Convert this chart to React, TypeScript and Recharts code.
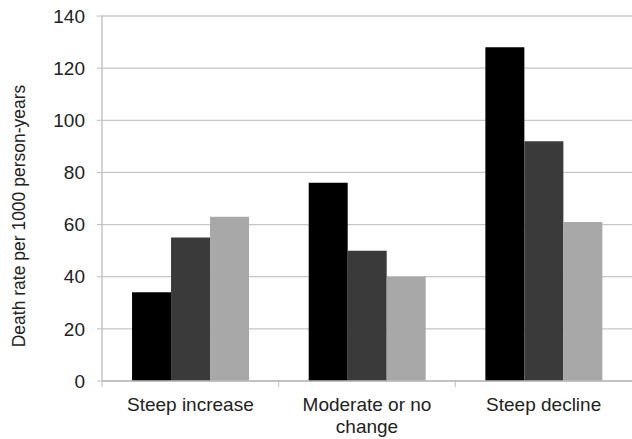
import { BarChart, Bar, XAxis, YAxis, CartesianGrid } from "recharts"

const CATEGORIES = ["Steep increase", "Moderate or no change", "Steep decline"]
const SERIES_A = [34, 76, 128]
const SERIES_B = [55, 50, 92]
const SERIES_C = [63, 40, 61]
const Y_TICKS = [0, 20, 40, 60, 80, 100, 120, 140]

const FONT = "'Liberation Sans', Arial, sans-serif"
const TEXT_COLOR = "#222"
const AXIS_COLOR = "#bdbdbd"
const MAX_LINE_CHARS = 14

const data = CATEGORIES.map((name, i) => ({
  name,
  a: SERIES_A[i],
  b: SERIES_B[i],
  c: SERIES_C[i],
}))

// greedy word wrap, the category labels are short enough for this
function wrap(label: string) {
  const lines: string[] = []
  let cur = ""
  for (const w of label.split(" ")) {
    const next = cur ? cur + " " + w : w
    if (next.length > MAX_LINE_CHARS && cur) {
      lines.push(cur)
      cur = w
    } else {
      cur = next
    }
  }
  if (cur) lines.push(cur)
  return lines
}

function CategoryTick({ x, y, payload }: any) {
  const half = payload?.offset ?? 0
  const lines = wrap(String(payload.value))
  return (
    <g>
      <line x1={x - half} x2={x - half} y1={y - 8} y2={y - 2} stroke={AXIS_COLOR} />
      <text
        x={x}
        y={y + 22}
        textAnchor="middle"
        fontSize={19}
        fontFamily={FONT}
        fill={TEXT_COLOR}
      >
        {lines.map((l, i) => (
          <tspan key={i} x={x} dy={i === 0 ? 0 : 22}>
            {l}
          </tspan>
        ))}
      </text>
    </g>
  )
}

function YLabel() {
  const cy = 216
  return (
    <text
      x={19}
      y={cy}
      transform={`rotate(-90, 19, ${cy})`}
      textAnchor="middle"
      dominantBaseline="central"
      fontSize={17.5}
      fontFamily={FONT}
      fill={TEXT_COLOR}
    >
      Death rate per 1000 person-years
    </text>
  )
}

export default function App() {
  return (
    <div style={{ position: "absolute", left: 0, top: 0, background: "#fff" }}>
      <BarChart
        width={632}
        height={439}
        data={data}
        margin={{ top: 16, right: 0, bottom: 0, left: 0 }}
        barCategoryGap="17%"
        barGap={0}
      >
        <CartesianGrid vertical={false} stroke="#c6c6c6" strokeWidth={1.3} />
        <XAxis
          dataKey="name"
          height={58}
          tickLine={false}
          axisLine={{ stroke: AXIS_COLOR, strokeWidth: 1.3 }}
          tick={<CategoryTick />}
          interval={0}
        />
        <YAxis
          width={102}
          domain={[0, 140]}
          ticks={Y_TICKS}
          interval={0}
          tickSize={5}
          tickMargin={12}
          tickLine={{ stroke: AXIS_COLOR }}
          axisLine={{ stroke: AXIS_COLOR, strokeWidth: 1.3 }}
          tick={{ fontSize: 19, fontFamily: FONT, fill: TEXT_COLOR }}
          label={<YLabel />}
        />
        <Bar dataKey="a" fill="#000000" isAnimationActive={false} />
        <Bar dataKey="b" fill="#3a3a3a" isAnimationActive={false} />
        <Bar dataKey="c" fill="#a8a8a8" isAnimationActive={false} />
      </BarChart>
    </div>
  )
}
